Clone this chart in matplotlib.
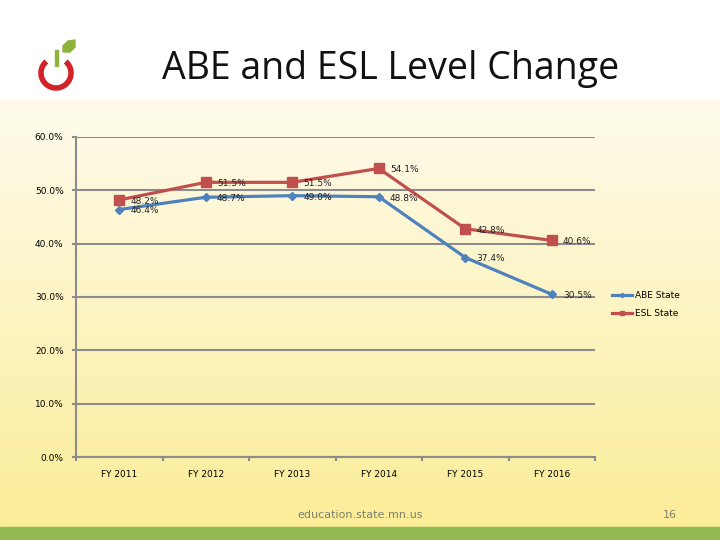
import numpy as np
import matplotlib.pyplot as plt
from matplotlib.patches import Arc, Polygon, Rectangle
from matplotlib.ticker import PercentFormatter

years = ["FY 2011", "FY 2012", "FY 2013", "FY 2014", "FY 2015", "FY 2016"]
abe = [46.4, 48.7, 49.0, 48.8, 37.4, 30.5]
esl = [48.2, 51.5, 51.5, 54.1, 42.8, 40.6]

fig = plt.figure(figsize=(7.2, 5.4), dpi=100)

# slide background: white on top, fading into pale yellow
bg = fig.add_axes([0, 0, 1, 1], zorder=-10)
grad = np.ones((540, 1, 3))
top = np.array([1.0, 1.0, 1.0])
mid = np.array([254, 251, 236]) / 255
bot = np.array([251, 237, 152]) / 255
for i in range(540):
    if i < 100:
        grad[i, 0] = top
    else:
        t = (i - 100) / 427
        grad[i, 0] = mid * (1 - t) + bot * t
bg.imshow(grad, aspect="auto", extent=[0, 720, 540, 0])
bg.add_patch(Rectangle((0, 527), 720, 13, color="#93b955"))
bg.set_xlim(0, 720)
bg.set_ylim(540, 0)
bg.axis("off")

# logo (y axis is flipped here, so the gap sits around 270 deg)
bg.add_patch(Arc((56, 73), 30, 30, theta1=310, theta2=590, color="#d2232a", lw=4))
bg.add_patch(Rectangle((54.5, 50), 3.5, 16, color="#8cb43c"))
bg.add_patch(Polygon([[63, 52], [63, 46], [68, 41], [75, 40], [75, 47], [70, 52]], color="#8cb43c"))

fig.text(0.542, 0.872, "ABE and ESL Level Change", fontsize=27, ha="center", va="center",
         family="Open Sans", color="#111111")
fig.text(0.5, 0.046, "education.state.mn.us", fontsize=8, ha="center", va="center", color="#7f7f6a")
fig.text(0.931, 0.046, "16", fontsize=8, ha="center", va="center", color="#7f7f6a")

ax = fig.add_axes([0.1056, 0.1537, 0.7208, 0.5926])
ax.patch.set_alpha(0)
x = np.arange(len(years))
ax.plot(x, abe, color="#4f81bd", lw=2.3, marker="D", ms=4.5, label="ABE State", zorder=3)
ax.plot(x, esl, color="#c0504d", lw=2.3, marker="s", ms=6.5, label="ESL State", zorder=3)

for xi, v in zip(x, abe):
    ax.annotate(f"{v:.1f}%", (xi, v), xytext=(8, -1), textcoords="offset points",
                fontsize=6.5, va="center", color="#222222")
for xi, v in zip(x, esl):
    ax.annotate(f"{v:.1f}%", (xi, v), xytext=(8, -1), textcoords="offset points",
                fontsize=6.5, va="center", color="#222222")

ax.set_xlim(-0.5, 5.5)
ax.set_ylim(0, 60)
ax.set_yticks(np.arange(0, 61, 10))
ax.yaxis.set_major_formatter(PercentFormatter(decimals=1))
ax.set_xticks(np.arange(-0.5, 5.6, 1))
ax.set_xticklabels([])
ax.set_xticks(x, minor=True)
ax.set_xticklabels(years, minor=True, fontsize=6.5)
ax.tick_params(axis="x", which="minor", length=0, pad=9)
ax.tick_params(axis="x", which="major", length=3, color="#8c8c8c", width=1.5, direction="out")
ax.tick_params(axis="y", length=3, color="#8c8c8c", width=1.5, labelsize=6.5, pad=6)
ax.grid(axis="y", color="#8c8c8c", lw=1.5)
ax.set_axisbelow(True)
for s in ["top", "right"]:
    ax.spines[s].set_visible(False)
for s in ["left", "bottom"]:
    ax.spines[s].set_color("#8c8c8c")
    ax.spines[s].set_linewidth(1.5)

ax.legend(loc="upper left", bbox_to_anchor=(1.017, 0.545), frameon=False, fontsize=6.5,
          handlelength=2.2, handletextpad=0.3, markerscale=0.5, labelspacing=1.0)

fig.savefig("out.png", dpi=100)
